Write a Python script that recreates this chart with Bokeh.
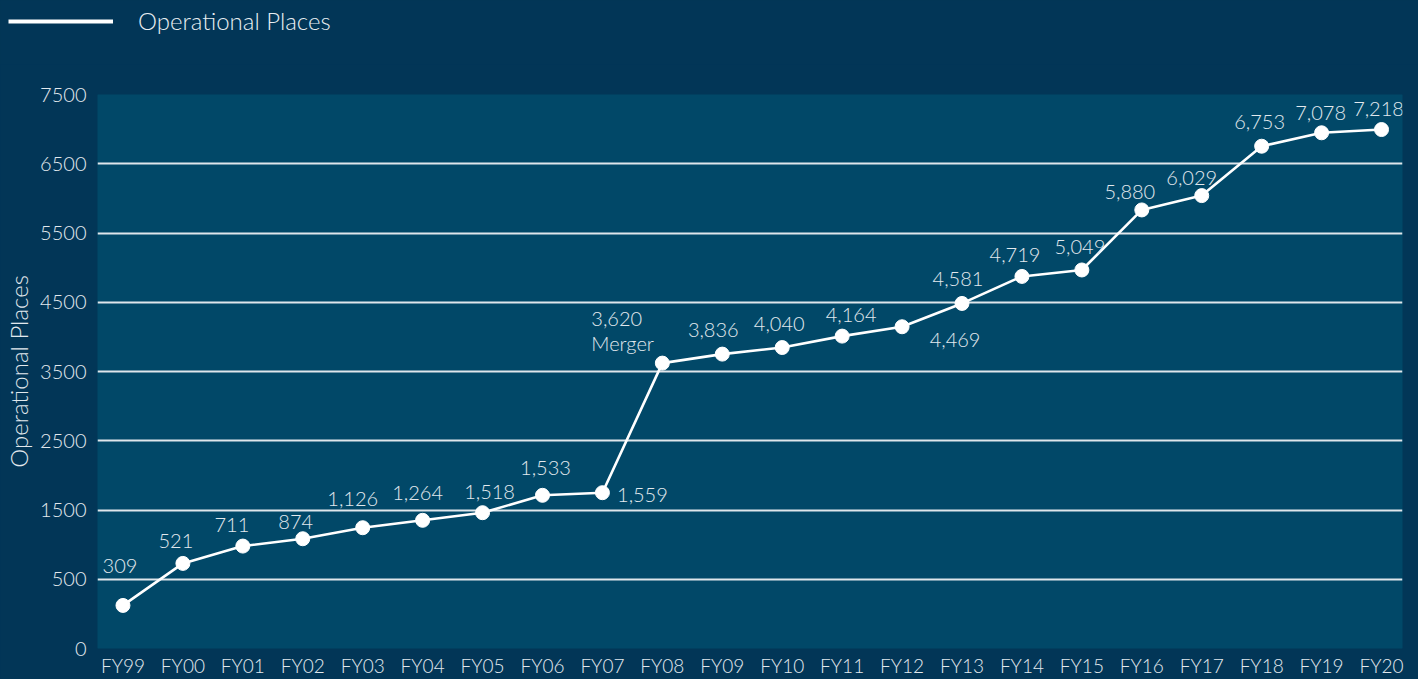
from bokeh.plotting import figure
from bokeh.layouts import column, row
from bokeh.models import ColumnDataSource, FixedTicker, Legend, LegendItem
from bokeh.core.properties import value
from bokeh.embed import file_html
from bokeh.resources import INLINE

# ---------------- data ----------------
categories = ["FY99", "FY00", "FY01", "FY02", "FY03", "FY04", "FY05", "FY06",
              "FY07", "FY08", "FY09", "FY10", "FY11", "FY12", "FY13", "FY14",
              "FY15", "FY16", "FY17", "FY18", "FY19", "FY20"]
# values read from the point positions against the printed axis
places = [311, 729, 979, 1085, 1244, 1351, 1461, 1712, 1750, 3621, 3751,
          3846, 4011, 4146, 4483, 4873, 4966, 5833, 6040, 6753, 6947, 6994]
# data labels as printed on the chart
place_labels = ["309", "521", "711", "874", "1,126", "1,264", "1,518", "1,533",
                "1,559", "3,620", "3,836", "4,040", "4,164", "4,469", "4,581",
                "4,719", "5,049", "5,880", "6,029", "6,753", "7,078", "7,218"]
y_tick_values = [0, 500, 1500, 2500, 3500, 4500, 5500, 6500, 7500]
note_category = "FY08"
note_text = "Merger"
series_name = "Operational Places"

# ---------------- styling / placement ----------------
label_dx = [-3, -7, -11, -7, -10, -5, 7, 3, 40, -71, -9, -3, 9, 53, -4, -7,
            -2, -12, -10, -2, -1, -3]
label_dy = [-39, -22, -21, -17, -29, -27, -21, -27, 2, -33, -24, -24, -21, 13,
            -24, -21, -23, -18, -18, -24, -20, -21]

OUTER = "#023657"
INNER = "#014868"
GRID = "#dfe6eb"
TEXT = "#e2e9ee"
FONT = "Lato Light"
BG_STYLE = {"background-color": OUTER}


def axis_pos(v):
    # the printed axis: first step is 500, following steps are 1000 each
    return 2 * v if v <= 500 else v + 500


xs = list(range(len(categories)))
ys = [axis_pos(v) for v in places]
tick_pos = [axis_pos(v) for v in y_tick_values]

HEADER_H = 64

# ---------------- header with the legend ----------------
head = figure(width=1418, height=HEADER_H, output_backend="svg",
              toolbar_location=None, x_range=(-100, -99), y_range=(-100, -99),
              x_axis_type=None, y_axis_type=None, min_border=0,
              styles=BG_STYLE)
head.grid.visible = False
head.background_fill_color = OUTER
head.border_fill_color = OUTER
head.outline_line_color = None
# same series, kept outside the header's view; only its legend swatch shows
legend_r = head.line(xs, ys, line_color="white", line_width=4)
legend = Legend(items=[LegendItem(label=series_name, renderers=[legend_r])],
                location=(8, 29), glyph_width=105, glyph_height=24,
                label_standoff=25, padding=0, margin=0, spacing=0,
                label_text_font=FONT, label_text_font_size="24px",
                label_text_color="#e8eef2",
                background_fill_alpha=0, border_line_alpha=0)
head.add_layout(legend, "center")

# ---------------- main chart ----------------
p = figure(width=1418, height=679 - HEADER_H, output_backend="svg",
           toolbar_location=None,
           x_range=(-0.425, len(categories) - 1 + 0.35),
           y_range=(0, tick_pos[-1]),
           min_border_left=97, min_border_right=16, min_border_top=94 - HEADER_H,
           min_border_bottom=31, styles=BG_STYLE)
p.background_fill_color = INNER
p.border_fill_color = OUTER
p.outline_line_color = None

p.xaxis.ticker = FixedTicker(ticks=xs)
p.xaxis.major_label_overrides = {i: c for i, c in enumerate(categories)}
p.yaxis.ticker = FixedTicker(ticks=tick_pos)
p.yaxis.major_label_overrides = {tp: str(v) for tp, v in zip(tick_pos, y_tick_values)}
for ax in (p.xaxis, p.yaxis):
    ax.axis_line_color = None
    ax.major_tick_line_color = None
    ax.minor_tick_line_color = None
    ax.major_tick_out = 0
    ax.major_tick_in = 0
    ax.minor_tick_out = 0
    ax.minor_tick_in = 0
    ax.major_label_text_font = FONT
    ax.major_label_text_color = TEXT
p.yaxis.major_label_text_font_size = "20px"
p.xaxis.major_label_text_font_size = "19px"
p.yaxis.major_label_standoff = 11
p.xaxis.major_label_standoff = 5
p.yaxis.axis_label = series_name
p.yaxis.axis_label_text_font = FONT
p.yaxis.axis_label_text_font_size = "24px"
p.yaxis.axis_label_text_font_style = "normal"
p.yaxis.axis_label_text_color = TEXT
p.yaxis.axis_label_standoff = 4

p.xgrid.grid_line_color = None
p.ygrid.grid_line_color = GRID
p.ygrid.grid_line_width = 2

src = ColumnDataSource(dict(x=xs, y=ys))
p.line("x", "y", source=src, line_color="white", line_width=2.6)
p.scatter("x", "y", source=src, size=14, fill_color="white", line_color="white")

idx_note = categories.index(note_category)
center_idx = [i for i in xs if i != idx_note]
src_c = ColumnDataSource(dict(x=[xs[i] for i in center_idx],
                              y=[ys[i] for i in center_idx],
                              label=[place_labels[i] for i in center_idx],
                              dx=[label_dx[i] for i in center_idx],
                              dy=[label_dy[i] for i in center_idx]))
p.text("x", "y", text="label", source=src_c, x_offset="dx", y_offset="dy",
       text_align="center", text_baseline="middle", text_font=value(FONT),
       text_font_size="20px", text_color=TEXT)
src_n = ColumnDataSource(dict(x=[xs[idx_note]], y=[ys[idx_note]],
                              label=[place_labels[idx_note] + "\n" + note_text],
                              dx=[label_dx[idx_note]], dy=[label_dy[idx_note]]))
p.text("x", "y", text="label", source=src_n, x_offset="dx", y_offset="dy",
       text_align="left", text_baseline="middle", text_font=value(FONT),
       text_font_size="20px", text_color=TEXT, text_line_height=1.05)

page = column(row(head, styles=BG_STYLE), p, spacing=0, styles=BG_STYLE)
open("out.html", "w").write(file_html(page, INLINE))
